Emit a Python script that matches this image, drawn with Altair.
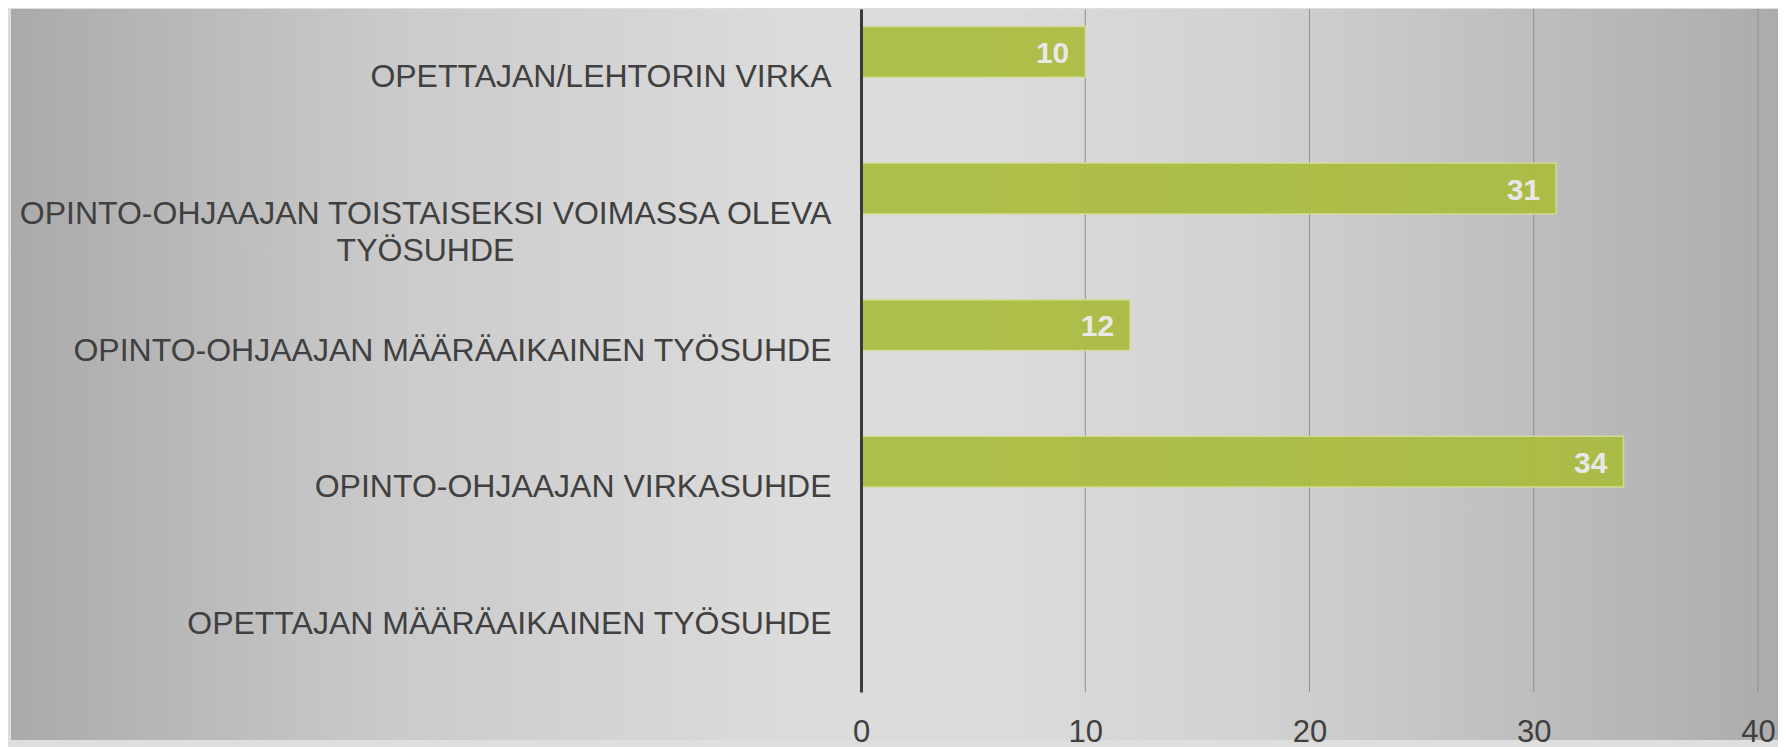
import altair as alt
import pandas as pd

categories = [
    "OPETTAJAN/LEHTORIN VIRKA",
    "OPINTO-OHJAAJAN TOISTAISEKSI VOIMASSA OLEVA TYÖSUHDE",
    "OPINTO-OHJAAJAN MÄÄRÄAIKAINEN TYÖSUHDE",
    "OPINTO-OHJAAJAN VIRKASUHDE",
    "OPETTAJAN MÄÄRÄAIKAINEN TYÖSUHDE",
]
values = [10, 31, 12, 34, 0]
x_ticks = [0, 10, 20, 30, 40]

df = pd.DataFrame({"category": categories, "value": values, "series": ["A"] * len(categories)})
df_ticks = pd.DataFrame({"value": x_ticks})

W, H = 897, 683
FONT = "Liberation Sans"
LONG = "OPINTO-OHJAAJAN TOISTAISEKSI VOIMASSA OLEVA TYÖSUHDE"
is_long = f"datum.value == '{LONG}'"

label_expr = (
    f"{is_long} ? ['OPINTO-OHJAAJAN TOISTAISEKSI VOIMASSA OLEVA', 'TYÖSUHDE'] : datum.value"
)

bg = alt.Chart(pd.DataFrame({"a": [0]})).mark_rect(
    color=alt.LinearGradient(
        gradient="linear",
        x1=0, y1=0, x2=1, y2=0,
        stops=[
            alt.GradientStop(offset=0.0, color="#aaaaaa"),
            alt.GradientStop(offset=0.22, color="#cbcbcb"),
            alt.GradientStop(offset=0.45, color="#dcdcdc"),
            alt.GradientStop(offset=0.55, color="#dcdcdc"),
            alt.GradientStop(offset=0.70, color="#d2d2d2"),
            alt.GradientStop(offset=1.0, color="#acacac"),
        ],
    )
).encode(
    x=alt.value(-850), x2=alt.value(W + 20), y=alt.value(0), y2=alt.value(731)
)

x_scale = alt.Scale(domain=[0, 40], nice=False)
x_axis = alt.Axis(
    title=None,
    values=x_ticks,
    domain=False,
    ticks=False,
    grid=False,
    labelFont=FONT,
    labelFontSize=31,
    labelColor="#404040",
    labelPadding=25,
    labelFlush=False,
    zindex=2,
)

grid = alt.Chart(df_ticks).mark_rule(color="#8f8f8f", strokeWidth=1).encode(
    x=alt.X("value:Q", scale=x_scale, axis=x_axis)
)

y_axis = alt.Axis(
    title=None,
    ticks=False,
    grid=False,
    domain=True,
    domainColor="#3a3a3a",
    domainWidth=3,
    labelFont=FONT,
    labelFontSize=32,
    labelColor="#404040",
    labelPadding={"condition": {"test": is_long, "value": 436}, "value": 30},
    labelAlign={"condition": {"test": is_long, "value": "center"}, "value": "right"},
    labelLimit=1000,
    labelLineHeight=37,
    labelExpr=label_expr,
    zindex=2,
)
y_scale = alt.Scale(domain=categories, paddingInner=0, paddingOuter=0)
yoff = alt.YOffset(
    "series:N",
    scale=alt.Scale(domain=["A", "B"], paddingInner=0, paddingOuter=0.345),
)

base = alt.Chart(df).transform_filter("datum.value > 0")

bars = base.mark_bar(
    color="#abbc3f", opacity=0.93, stroke="#d4dc98", strokeWidth=1.5
).encode(
    x=alt.X("value:Q", scale=x_scale, axis=x_axis),
    y=alt.Y("category:N", sort=categories, scale=y_scale, axis=y_axis),
    yOffset=yoff,
)

texts = base.mark_text(
    align="right", baseline="middle", dx=-16, dy=2,
    font=FONT, fontSize=30, fontWeight="bold", color="#e8e8e8",
).encode(
    x=alt.X("value:Q", scale=x_scale, axis=x_axis),
    y=alt.Y("category:N", sort=categories, scale=y_scale, axis=y_axis),
    yOffset=yoff,
    text="value:Q",
)

chart = alt.layer(bg, grid, bars, texts).properties(
    width=W, height=H,
    padding={"left": 3, "top": 0, "right": 0, "bottom": 0},
    background="#dedede",
).configure_view(stroke=None).configure_axisY(domainWidth=3, domainColor="#3a3a3a")

chart.save("out.html", embed_options={"renderer": "svg", "actions": False})
